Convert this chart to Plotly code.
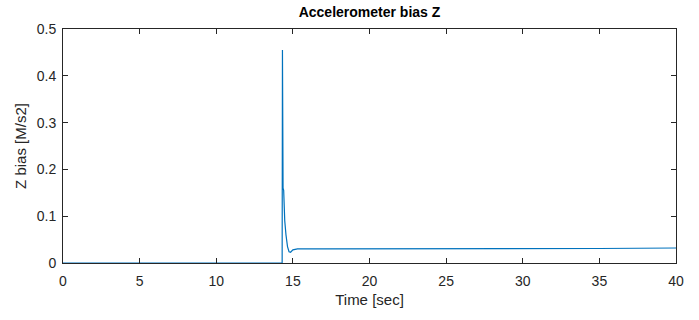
import plotly.graph_objects as go

# Time [sec] and Z accelerometer bias [M/s2]
time_s = [0.0, 5.0, 10.0, 14.30, 14.32, 14.33, 14.34, 14.36, 14.40, 14.43, 14.47,
          14.55, 14.65, 14.75, 14.85, 15.0, 15.3, 17.0, 20.0, 25.0, 30.0, 35.0, 40.0]
bias_z = [0.0, 0.0, 0.0, 0.0, 0.455, 0.20, 0.45, 0.16, 0.155, 0.10, 0.09,
          0.06, 0.035, 0.024, 0.023, 0.028, 0.030, 0.030, 0.030, 0.030, 0.030, 0.031, 0.032]

x_ticks = [0, 5, 10, 15, 20, 25, 30, 35, 40]
y_ticks = [0, 0.1, 0.2, 0.3, 0.4, 0.5]
y_tick_text = ["0", "0.1", "0.2", "0.3", "0.4", "0.5"]

FONT = "Liberation Sans, Arial, Helvetica, sans-serif"
AXC = "#262626"

fig = go.Figure()
fig.add_trace(go.Scatter(x=time_s, y=bias_z, mode="lines",
                         line=dict(color="#0072BD", width=1.2), showlegend=False))

axis_common = dict(showline=True, linecolor=AXC, linewidth=1, mirror="ticks",
                   ticks="inside", ticklen=5, tickcolor=AXC, tickwidth=1,
                   showgrid=False, zeroline=False,
                   tickfont=dict(family=FONT, size=14, color=AXC))

fig.update_layout(
    width=699, height=320,
    margin=dict(l=63, r=23, t=29, b=57),
    paper_bgcolor="white", plot_bgcolor="white",
    title=dict(text="<b>Accelerometer bias Z</b>", x=(63 + 676) / 2 / 699, xanchor="center",
               y=1 - 12 / 320, yanchor="middle", yref="container",
               font=dict(family=FONT, size=14, color="black")),
    xaxis=dict(range=[0, 40], tickvals=x_ticks, ticklabelstandoff=5,
               title=dict(text="Time [sec]", font=dict(family=FONT, size=15, color=AXC), standoff=6),
               **axis_common),
    yaxis=dict(range=[0, 0.5], tickvals=y_ticks, ticktext=y_tick_text, ticklabelstandoff=3,
               title=dict(text="Z bias [M/s2]", font=dict(family=FONT, size=15, color=AXC), standoff=6),
               **axis_common),
)

fig.write_html("out.html")
